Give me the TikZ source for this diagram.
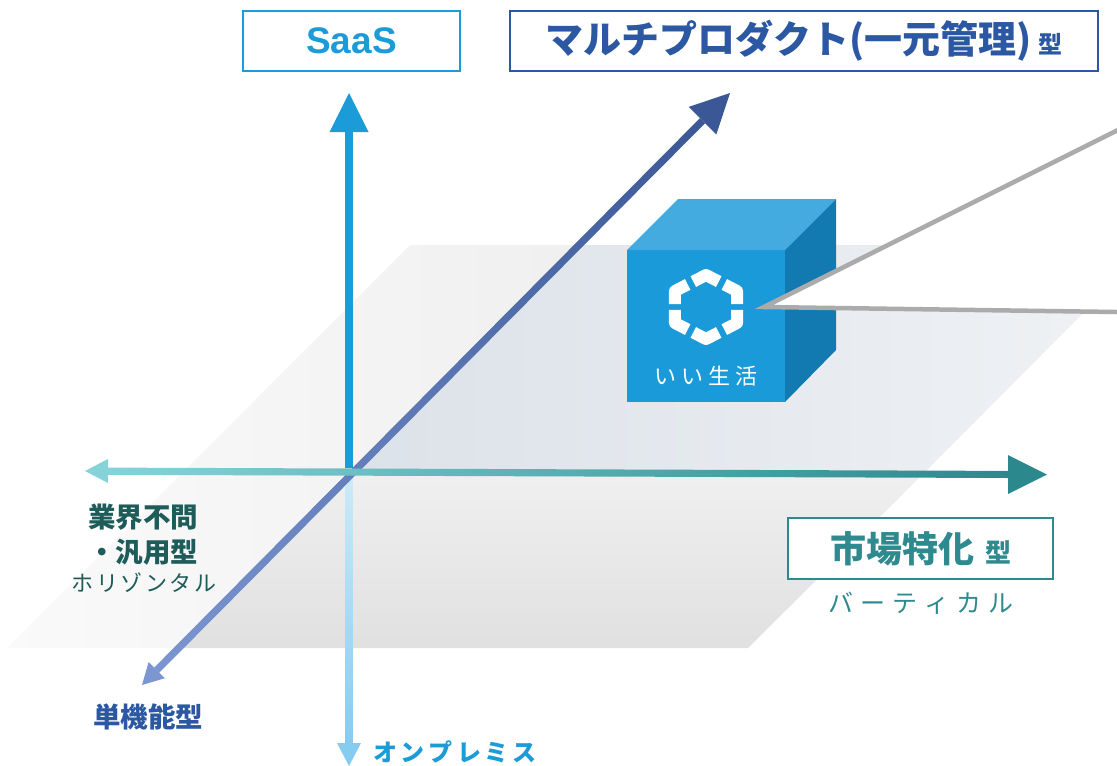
\documentclass[tikz,border=0pt]{standalone}
\usepackage{fontspec}
\newfontfamily\jp{Noto Sans CJK JP}
\newfontfamily\lat{Liberation Sans}
\usetikzlibrary{calc}
\definecolor{saas}{HTML}{1B9BD7}
\definecolor{navy}{HTML}{2B57A3}
\definecolor{tealc}{HTML}{2E8A8E}
\definecolor{tealdk}{HTML}{1E5C5A}
\definecolor{hL}{HTML}{85D3D8}
\definecolor{hR}{HTML}{2B898D}
\definecolor{dTop}{HTML}{3B5795}
\definecolor{dBot}{HTML}{7B96D1}
\definecolor{vTop}{HTML}{CDEAF8}
\definecolor{vBot}{HTML}{86CCF0}
\definecolor{cubeF}{HTML}{1A9AD8}
\definecolor{cubeT}{HTML}{44ABE0}
\definecolor{cubeR}{HTML}{127AB0}
\definecolor{callg}{HTML}{ABABAB}
\begin{document}
\begin{tikzpicture}[x=1pt,y=-1pt,
  labelbox/.style={draw, line width=2.5pt, fill=white, inner sep=0pt},
  jpb/.style={font=\jp\bfseries},
  callout/.style={draw=callg, line width=4.5pt, line join=miter},
  logoseg/.style={draw=white, line width=12pt, line join=round, line cap=butt}]
\useasboundingbox (0,0) rectangle (1117,766);
\clip (0,0) rectangle (1117,766);
% plane
\shade[left color=white!98!black, right color=white!94!black] (410,245) -- (577,245) -- (174,648) -- (7,648) -- cycle;
\shade[left color={rgb,255:red,220;green,226;blue,233}, right color={rgb,255:red,240;green,242;blue,245}] (577,245) -- (1151,245) -- (925,472) -- (350,472) -- cycle;
\shade[top color=white!94!black, bottom color=white!88!black] (350,472) -- (925,472) -- (748,648) -- (174,648) -- cycle;
% coordinates
\coordinate (O) at (350,472);
\coordinate (saasTip) at (349,93);
\coordinate (saasBase) at (349,132);
\coordinate (premTip) at (349,766);
\coordinate (premBase) at (349,743);
\coordinate (hLTip) at (85,471);
\coordinate (hLBase) at (108,471.2);
\coordinate (hRTip) at (1047,474.5);
\coordinate (hRBase) at (1008,474.3);
\coordinate (dTTip) at (730,93);
\coordinate (dBTip) at (142,685);
\coordinate (dTBase) at ($(dTTip)!39pt!(dBTip)$);
\coordinate (dBBase) at ($(dBTip)!21pt!(dTTip)$);
% vertical SaaS axis
\draw[saas, line width=7.5pt] (349,468) -- (saasBase);
\fill[saas] (saasTip) -- (329.5,132) -- (368.5,132) -- cycle;
% on-premise axis (lower)
\shade[top color=vTop, bottom color=vBot] (345.3,476) rectangle (352.7,743.5);
\fill[vBot] (premTip) -- (337,743) -- (361,743) -- cycle;
% diagonal axis
\shade[top color=dTop, bottom color=dBot]
  ($(dBBase)!3.6pt!90:(dTBase)$) -- ($(dTBase)!3.6pt!-90:(dBBase)$) -- ($(dTBase)!3.6pt!90:(dBBase)$) -- ($(dBBase)!3.6pt!-90:(dTBase)$) -- cycle;
\fill[dTop] (dTTip) -- ($(dTBase)!19.5pt!90:(dTTip)$) -- ($(dTBase)!19.5pt!-90:(dTTip)$) -- cycle;
\fill[dBot] (dBTip) -- ($(dBBase)!11.5pt!90:(dBTip)$) -- ($(dBBase)!11.5pt!-90:(dBTip)$) -- cycle;
% horizontal axis
\shade[left color=hL, right color=hR] (108,467.6) -- (1008,470.9) -- (1008,478) -- (108,474.8) -- cycle;
\fill[hL] (hLTip) -- (108,459) -- (108,483) -- cycle;
\fill[hR] (hRTip) -- (1008,455) -- (1008,494) -- cycle;
% cube
\fill[cubeT] (627,250) -- (678,199) -- (836,199) -- (785,250) -- cycle;
\fill[cubeR] (785,250) -- (836,199) -- (836,350) -- (785,402) -- cycle;
\fill[cubeF] (627,250) rectangle (785,402);
\begin{scope}[shift={(706,307)}, xscale=1.12]
\foreach \a in {90,150,210,270,330,30} {
  \path[logoseg] ($(\a:32)!0.41!({\a-60}:32)$) -- (\a:32) -- ($(\a:32)!0.41!({\a+60}:32)$);
}
\end{scope}
\node[text=white, font=\jp\fontsize{22}{24}\selectfont, inner sep=0pt] (cubename) at (706,376) {い\kern5pt い\kern5pt 生\kern5pt 活};
% callout
\coordinate (apex) at (764,307);
\coordinate (cu) at (1130,124);
\coordinate (cl) at (1130,312.2);
\fill[white] (apex) -- (cu) -- (cl) -- cycle;
\draw[callout] (cu) -- (apex) -- (cl);
% labels
\node[labelbox, draw=saas, text=saas, minimum width=217pt, minimum height=60pt, font=\lat\bfseries\fontsize{37}{40}\selectfont] (saasbox) at (351.5,41) {SaaS};
\node[labelbox, draw=navy, text=navy, minimum width=588pt, minimum height=60pt, jpb] (multibox) at (804,41) {\fontsize{38}{40}\selectfont マルチプロダクト(一元管理)\kern7pt{\fontsize{24}{26}\selectfont 型}};
\node[labelbox, draw=tealc, text=tealc, minimum width=265pt, minimum height=61pt, jpb] (vertbox) at (920.5,548.5) {\fontsize{36}{40}\selectfont 市場特化\kern11pt{\fontsize{26}{28}\selectfont 型}};
\node[text=tealc, font=\jp\fontsize{25}{28}\selectfont, inner sep=0pt] (vertsub) at (921,603) {バ\kern7pt ー\kern7pt テ\kern7pt ィ\kern7pt カ\kern7pt ル};
\node[text=tealdk, font=\jp\bfseries\fontsize{27.5}{30}\selectfont, inner sep=0pt] (horiz1) at (143,517) {業界不問};
\node[text=tealdk, font=\jp\bfseries\fontsize{27.5}{30}\selectfont, inner sep=0pt] (horiz2) at (143,552) {・汎用型};
\node[text=tealdk, font=\jp\fontsize{22}{24}\selectfont, inner sep=0pt] (horizsub) at (144,583) {ホ\kern2.5pt リ\kern2.5pt ゾ\kern2.5pt ン\kern2.5pt タ\kern2.5pt ル};
\node[text=navy, font=\jp\bfseries\fontsize{27.5}{30}\selectfont, inner sep=0pt] (single) at (148,717) {単機能型};
\node[text=saas, font=\jp\bfseries\fontsize{24}{26}\selectfont, inner sep=0pt] (onprem) at (455,752) {オ\kern4pt ン\kern4pt プ\kern4pt レ\kern4pt ミ\kern4pt ス};
\end{tikzpicture}
\end{document}
